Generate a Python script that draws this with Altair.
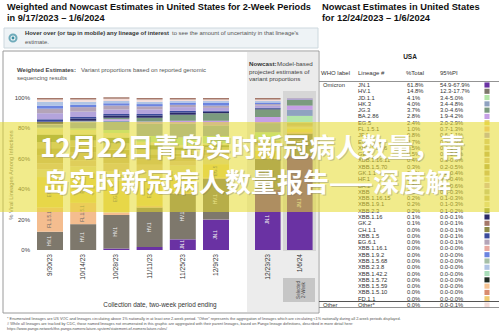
import altair as alt
import pandas as pd

# ---------------- data ----------------
weighted_periods = ["9/30/23", "10/14/23", "10/28/23", "11/11/23", "11/25/23", "12/9/23"]
nowcast_periods = ["12/23/23", "1/6/24"]

# stacking order, bottom -> top
stack_lineages = ["JN.1", "HV.1", "FL.1.5.1", "EG.5", "HF.1", "XBB.1.16.11", "GK.1.1",
                  "XBB.1.5.70", "XBB.1.16.15", "XBB.2.3", "XBB.1.9.1", "JD.1.1", "HK.3",
                  "BA.2.86", "JG.3", "XBB.1.16", "XBB.1.5", "JF.1", "EG.6.1", "XBB.1.9.2",
                  "XBB.2.3.8", "Other*", "GK.2"]

share_0930 = [0, 12, 16, 20, 5, 4, 5, 5, 4, 5, 4, 0.5, 2, 0.3, 0.2, 1.5, 1.5, 4, 3, 2, 2.5, 1.5, 1]
share_1014 = [0, 17, 14, 19, 5, 4, 5, 4, 4, 4, 3, 1, 4, 0.5, 0.5, 1.5, 1, 3.5, 3, 1.5, 2, 1.5, 1]
share_1028 = [1, 22, 1.5, 21, 6.5, 5, 5, 4, 4, 4, 3, 2, 6, 1, 1, 1.5, 1, 3, 2.5, 1.5, 1.5, 1.5, 1]
share_1111 = [2, 26, 1, 17, 6, 4, 4, 3, 3, 3, 2, 4, 8, 1.5, 2.5, 1.5, 1, 3, 2, 1.5, 1.5, 1.5, 1]
share_1125 = [7, 30, 0.5, 13, 5, 3, 3, 2, 2, 2, 1.5, 5, 9, 2, 4, 1.5, 1, 2.5, 1.5, 1.5, 1, 1, 1]
share_1209 = [20, 27, 0.5, 9, 4, 2, 2, 1.5, 1.5, 1.5, 1, 5, 7, 3, 5, 1, 0.5, 2, 1.5, 2, 1, 1, 1]
share_1223 = [40, 20, 0.3, 5, 2.5, 1, 1, 1, 0.7, 0.5, 0.5, 5, 6, 4, 5, 0.5, 0.5, 1.5, 1, 1, 1, 1, 1]
share_0106 = [61.8, 14.8, 1.0, 2.4, 1.0, 0.7, 0.8, 0.5, 0.35, 0.4, 0.4, 4.1, 4.0, 2.8, 3.7,
              0.1, 0.05, 0.8, 0.05, 0.05, 0.05, 0.05, 0.1]

# nowcast table (1/6/2024)
table_lineages = ["JN.1", "HV.1", "JD.1.1", "HK.3", "JG.3", "BA.2.86", "EG.5", "FL.1.5.1",
                  "JF.1", "EG.5.1.8", "XBB.1.16.6", "GE.1", "XBB.1.16.11", "XBB.1.5.70",
                  "GK.1.1", "HF.1", "BA.2", "XBB", "XBB.1.16.15", "XBB.1.9.1", "XBB.2.3",
                  "XBB.1.16", "GK.2", "CH.1.1", "XBB.1.5", "EG.6.1", "XBB.1.16.1", "XBB.1.9.2",
                  "XBB.1.5.68", "XBB.2.3.8", "XBB.1.42.2", "XBB.1.5.72", "XBB.1.5.59",
                  "XBB.1.5.10", "FD.1.1", "Other*"]
table_total = ["61.8%", "14.8%", "4.1%", "4.0%", "3.7%", "2.8%", "2.4%", "1.0%", "0.8%",
               "0.7%", "0.5%", "0.5%", "0.4%", "0.3%", "0.3%", "0.3%", "0.3%", "0.2%",
               "0.2%", "0.2%", "0.2%", "0.1%", "0.1%", "0.0%", "0.0%", "0.0%", "0.0%",
               "0.0%", "0.0%", "0.0%", "0.0%", "0.0%", "0.0%", "0.0%", "0.0%", "0.0%"]
table_pi = ["54.9-67.9%", "12.3-17.7%", "3.4-5.0%", "3.4-4.8%", "3.0-4.6%", "1.9-4.2%",
            "2.0-2.9%", "0.7-1.3%", "0.6-1.1%", "0.5-0.9%", "0.4-0.7%", "0.3-0.7%",
            "0.3-0.6%", "0.2-0.5%", "0.2-0.4%", "0.2-0.4%", "0.1-0.6%", "0.1-0.3%",
            "0.1-0.3%", "0.1-0.3%", "0.1-0.2%", "0.0-0.1%", "0.0-0.1%", "0.0-0.1%",
            "0.0-0.1%", "0.0-0.1%", "0.0-0.0%", "0.0-0.0%", "0.0-0.0%", "0.0-0.0%",
            "0.0-0.0%", "0.0-0.0%", "0.0-0.0%", "0.0-0.0%", "0.0-0.0%", "0.0-0.1%"]
table_who = ["Omicron"] + [""] * 34 + ["Other"]
lineage_colors = ["#6a32a3", "#7e786c", "#b4e6a8", "#8fa2c0", "#7b9b7e", "#c6a0e6", "#e8d36c",
                  "#f4bd8f", "#b4a4dc", "#d8c890", "#c9b87c", "#bfb070", "#d7bf93", "#b5a862",
                  "#c8b27a", "#e1d69e", "#d4b8c8", "#c0c0a0", "#cdc088", "#e6dfae", "#8f9a52",
                  "#2a2a68", "#a5786a", "#8c8a48", "#3b4b9c", "#b4a4b8", "#e8a9a0", "#6b84e0",
                  "#a6bfa6", "#b0c4e4", "#a9ddb9", "#1f2a22", "#f6c393", "#d98c6f", "#efcb72",
                  "#f3dcd8"]

label_lineages = ["JN.1", "HV.1", "FL.1.5.1", "EG.5"]
y_ticks = [0, 20, 40, 60, 80, 100]

# ---------------- build tables ----------------
def stack_frame(periods, shares):
    rows = []
    for p, vals in zip(periods, shares):
        for k, (lin, v) in enumerate(zip(stack_lineages, vals)):
            rows.append({"period": p, "lineage": lin, "value": v, "order": k})
    return pd.DataFrame(rows)

df_w = stack_frame(weighted_periods, [share_0930, share_1014, share_1028, share_1111, share_1125, share_1209])
df_n = stack_frame(nowcast_periods, [share_1223, share_0106])
df_t = pd.DataFrame({"lineage": table_lineages, "total": table_total, "pi": table_pi, "who": table_who})

FONT = "Liberation Sans"
CJK = "Noto Sans CJK SC"
ONE = alt.Data(values=[{"a": 1}])

color_scale = alt.Scale(domain=table_lineages, range=lineage_colors)
y_scale = alt.Scale(domain=[0, 100], range=[250, 98], nice=False, zero=True)


def txt(s, x, y, size, color="#333", weight="normal", align="left", angle=0,
        baseline="middle", font=FONT, opacity=1.0):
    return alt.Chart(ONE).mark_text(text=s, fontSize=size, color=color, fontWeight=weight,
                                    align=align, angle=angle, baseline=baseline, font=font,
                                    opacity=opacity).encode(x=alt.value(x), y=alt.value(y))


def box(x1, x2, y1, y2, fill="none", stroke=None, sw=1, opacity=1.0):
    kw = dict(fill=fill, opacity=opacity)
    if stroke:
        kw.update(stroke=stroke, strokeWidth=sw)
    return alt.Chart(ONE).mark_rect(**kw).encode(
        x=alt.value(x1), x2=alt.value(x2), y=alt.value(y1), y2=alt.value(y2))


def hline(x1, x2, y, color="#555", sw=1):
    return alt.Chart(ONE).mark_rule(color=color, strokeWidth=sw).encode(
        x=alt.value(x1), x2=alt.value(x2), y=alt.value(y))


def bars_panel(df, periods, rng, pin, pout):
    xs = alt.Scale(domain=periods, range=rng, paddingInner=pin, paddingOuter=pout)
    base = alt.Chart(df)
    bars = base.mark_bar().encode(
        x=alt.X("period:N", scale=xs, axis=None, sort=periods),
        y=alt.Y("value:Q", stack="zero", scale=y_scale, axis=None),
        color=alt.Color("lineage:N", scale=color_scale, legend=None),
        order=alt.Order("order:Q", sort="ascending"),
    )
    seg = base.transform_stack(
        stack="value", groupby=["period"], sort=[alt.SortField("order", "ascending")],
        as_=["v0", "v1"]
    ).transform_calculate(mid="(datum.v0 + datum.v1) / 2").transform_filter(
        alt.FieldOneOfPredicate(field="lineage", oneOf=label_lineages)
    ).transform_filter("datum.value >= 7").mark_text(
        angle=270, fontSize=4.5, font=FONT, align="center", baseline="middle"
    ).encode(
        x=alt.X("period:N", scale=xs, axis=None, sort=periods),
        y=alt.Y("mid:Q", scale=y_scale, axis=None),
        text="lineage:N",
        color=alt.condition("datum.lineage == 'JN.1' || datum.lineage == 'HV.1'",
                            alt.value("#f0f0f0"), alt.value("#666")),
    )
    dates = alt.Chart(pd.DataFrame({"period": periods})).mark_text(
        angle=270, fontSize=6.6, font=FONT, align="right", baseline="middle", color="#333"
    ).encode(
        x=alt.X("period:N", scale=xs, axis=None, sort=periods),
        y=alt.value(254),
        text="period:N",
    )
    return alt.layer(bars, seg, dates)


weighted = bars_panel(df_w, weighted_periods, [33.4, 232.6], 0.217, 0.108)
nowcast = bars_panel(df_n, nowcast_periods, [251.8, 315.8], 0.2, 0.1)

yticks = alt.Chart(pd.DataFrame({"t": y_ticks})).transform_calculate(
    lab="datum.t + '%'").mark_text(fontSize=6, font=FONT, align="right", color="#444",
                                   baseline="middle").encode(
    x=alt.value(30), y=alt.Y("t:Q", scale=y_scale, axis=None), text="lab:N")

# table
ty = alt.Y("lineage:N", sort=table_lineages,
           scale=alt.Scale(type="point", domain=table_lineages, range=[85, 305], padding=0),
           axis=None)
tab = alt.Chart(df_t)
tab_who = tab.mark_text(fontSize=5.8, font=FONT, align="left", color="#333").encode(
    x=alt.value(323), y=ty, text="who:N")
tab_lin = tab.mark_text(fontSize=5.8, font=FONT, align="left", color="#333").encode(
    x=alt.value(358), y=ty, text="lineage:N")
tab_tot = tab.mark_text(fontSize=5.8, font=FONT, align="left", color="#333").encode(
    x=alt.value(407), y=ty, text="total:N")
tab_pi = tab.mark_text(fontSize=5.8, font=FONT, align="left", color="#333").encode(
    x=alt.value(440), y=ty, text="pi:N")
tab_sq = tab.mark_point(shape="square", filled=True, size=26, opacity=1).encode(
    x=alt.value(487), y=ty,
    color=alt.Color("lineage:N", scale=color_scale, legend=None))
table = alt.layer(tab_who, tab_lin, tab_tot, tab_pi, tab_sq)

# ---------------- decorations & text ----------------
layers = [
    box(0, 499, 0, 336, fill="white"),
    txt("Weighted and Nowcast Estimates in United States for 2-Week Periods", 7, 7, 9.2,
        color="#111", weight="bold"),
    txt("in 9/17/2023 \u2013 1/6/2024", 7, 18, 9.2, color="#111", weight="bold"),
    txt("Nowcast Estimates in United States", 322, 7, 9.3, color="#111", weight="bold"),
    txt("for 12/24/2023 \u2013 1/6/2024", 322, 18, 9.3, color="#111", weight="bold"),
    box(4, 318, 28, 48, fill="#eef3f6", stroke="#cdd8de"),
    alt.Chart(ONE).mark_point(shape="circle", filled=False, stroke="#3a8ea2", strokeWidth=2,
                              size=50).encode(x=alt.value(13), y=alt.value(38)),
    alt.Chart(ONE).mark_point(shape="circle", filled=True, color="#3a8ea2", size=8,
                              opacity=1).encode(x=alt.value(13), y=alt.value(38)),
    txt("Hover over (or tap in mobile) any lineage of interest", 25, 33, 5.9, color="#333",
        weight="bold"),
    txt("to see the amount of uncertainty in that lineage's", 172, 33, 5.9, color="#555"),
    txt("estimate.", 25, 42, 5.9, color="#555"),
    box(3, 319, 51, 313, fill="white", stroke="#9a9a9a"),
    box(247, 318, 52, 312, fill="#ececec"),
    box(283, 316, 91, 251, fill="#d6d6d6"),
    txt("Weighted Estimates:", 17, 70, 6, color="#444", weight="bold"),
    txt("Variant proportions based on reported genomic", 81, 70, 6, color="#555"),
    txt("sequencing results", 17, 78, 6, color="#555"),
    txt("Nowcast:", 249, 64, 6.2, color="#333", weight="bold"),
    txt("Model-based", 277, 64, 6.2, color="#444"),
    txt("projected estimates of", 249, 71.5, 6.2, color="#444"),
    txt("variant proportions", 249, 79, 6.2, color="#444"),
    txt("% Viral Lineages Among Infections", 11, 175, 5.8, color="#666", angle=270,
        align="center"),
    yticks,
    weighted,
    nowcast,
    box(283, 315, 278, 302, fill="#c6c6c6"),
    alt.Chart(ONE).mark_text(text=["Selected", "2-Week"], fontSize=4.6, font=FONT, angle=270,
                             align="center", baseline="middle", color="#444",
                             lineHeight=5).encode(x=alt.value(299), y=alt.value(290)),
    txt("Collection date, two-week period ending", 160, 305, 6.4, color="#333",
        align="center"),
    txt("*      Enumerated lineages are US VOC and lineages circulating above 1% nationally in at "
        "least one 2-week period. \"Other\" represents the aggregation of lineages which are "
        "circulating <1% nationally during all 2-week periods displayed.", 7, 319, 3.85,
        color="#555"),
    txt("#      While all lineages are tracked by CDC, those named lineages not enumerated in "
        "this graphic are aggregated with their parent lineages, based on Pango lineage "
        "definitions, described in more detail here:", 7, 324, 3.85, color="#555"),
    txt("https://www.pango.network/the-pango-nomenclature-system/statement-of-nomenclature-rules/",
        7, 329, 3.85, color="#555"),
    txt("USA", 410, 57, 6.5, color="#222", weight="bold", align="center"),
    txt("WHO label", 321, 73, 6, color="#333"),
    txt("Lineage #", 358, 73, 6, color="#333"),
    txt("%Total", 406, 73, 6, color="#333"),
    txt("95%PI", 440, 73, 6, color="#333"),
    hline(319, 499, 81.5, color="#777", sw=0.8),
    table,
    hline(319, 499, 301.5, color="#555", sw=1.2),
    hline(319, 499, 307.5, color="#777", sw=0.8),
    # yellow banner
    box(0, 499, 122, 212, fill="#e6db2c", opacity=0.55),
    txt("12月22日青岛实时新冠病人数量，青", 41, 150, 26, color="#777", weight="bold",
        font=CJK, opacity=0.35),
    txt("岛实时新冠病人数量报告——深度解", 44, 185, 26, color="#777", weight="bold",
        font=CJK, opacity=0.35),
    txt("12月22日青岛实时新冠病人数量，青", 40, 149, 26, color="white", weight="bold",
        font=CJK),
    txt("岛实时新冠病人数量报告——深度解", 43, 184, 26, color="white", weight="bold",
        font=CJK),
]

chart = alt.layer(*layers).properties(
    width=499, height=336, padding=0, background="white",
    autosize=alt.AutoSizeParams(type="none"),
).resolve_scale(x="independent", y="independent").configure_view(stroke=None)

chart.save("out.html", embed_options={"renderer": "svg", "actions": False})
